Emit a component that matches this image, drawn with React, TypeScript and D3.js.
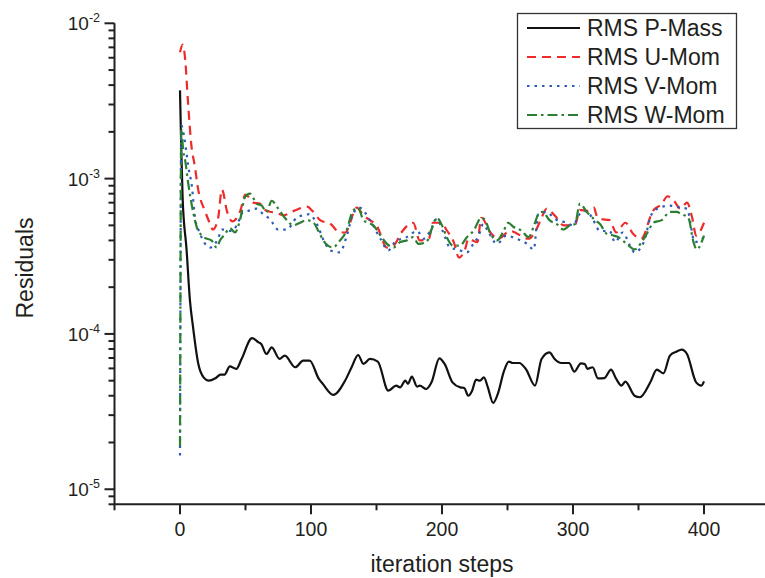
import * as d3 from 'd3';
import { useEffect, useRef } from 'react';

// [iteration step, residual]
const pMass = [
  [0, 3.7e-3], [1, 1.5e-3], [2, 7.5e-4], [5, 3.5e-4], [7.6, 1.64e-4], [10, 1.1e-4], [14, 6.4e-5], [18, 5.25e-5],
  [22, 5.0e-5], [27, 5.18e-5], [31, 5.47e-5], [34, 5.47e-5], [38, 6.18e-5], [43, 5.95e-5], [47, 6.9e-5], [55, 9.4e-5],
  [60, 8.83e-5], [62, 8.62e-5], [66, 7.43e-5], [70, 8.2e-5], [76, 6.9e-5], [80, 7.25e-5], [88, 6.1e-5], [94, 6.73e-5],
  [99, 6.73e-5], [106, 5.13e-5], [109, 4.77e-5], [117, 4.05e-5], [126, 5.0e-5], [131, 6.1e-5], [136, 7.32e-5], [140, 6.41e-5],
  [145, 6.9e-5], [151, 6.64e-5], [159, 4.31e-5], [165, 4.65e-5], [168, 4.53e-5], [172, 5.0e-5], [174, 4.77e-5], [177, 5.31e-5],
  [181, 4.58e-5], [183, 4.65e-5], [188, 4.42e-5], [192, 4.88e-5], [198, 6.97e-5], [202, 6.41e-5], [208, 4.88e-5], [214, 4.53e-5],
  [217, 4.49e-5], [220, 4.0e-5], [223, 4.31e-5], [226, 5.08e-5], [229, 5.0e-5], [232, 5.25e-5], [235, 4.53e-5], [239, 3.6e-5],
  [243, 4.21e-5], [247, 5.66e-5], [251, 6.64e-5], [254, 6.5e-5], [259, 6.5e-5], [264, 5.95e-5], [271, 4.65e-5], [276, 6.9e-5],
  [282, 7.61e-5], [286, 6.9e-5], [291, 6.5e-5], [297, 6.5e-5], [301, 5.72e-5], [306, 6.47e-5], [309, 6.41e-5], [311, 5.95e-5],
  [315, 6.1e-5], [319, 5.18e-5], [324, 5.2e-5], [329, 5.89e-5], [333, 5.13e-5], [337, 4.65e-5], [340, 4.93e-5], [347, 4.0e-5],
  [351, 3.91e-5], [359, 4.88e-5], [364, 5.89e-5], [369, 5.57e-5], [374, 7.25e-5], [379, 7.69e-5], [383, 7.92e-5], [387, 7.43e-5],
  [394, 4.88e-5], [398, 4.65e-5], [400, 4.95e-5]
];

const uMom = [
  [0, 6.5e-3], [2, 7.3e-3], [4, 5.8e-3], [6, 3.2e-3], [9, 1.55e-3], [11, 1.25e-3], [14, 8.4e-4], [19, 6.2e-4],
  [23, 5.1e-4], [25, 4.7e-4], [29, 5.5e-4], [32, 8.5e-4], [36, 6.1e-4], [40, 5.3e-4], [46, 6.2e-4], [50, 7.9e-4],
  [56, 7.0e-4], [61, 6.9e-4], [66, 6.2e-4], [74, 6.0e-4], [79, 5.8e-4], [87, 6.2e-4], [97, 6.6e-4], [101, 6.2e-4],
  [107, 5.4e-4], [115, 5.1e-4], [122, 4.5e-4], [126, 4.5e-4], [135, 6.5e-4], [140, 5.8e-4], [145, 5.4e-4], [150, 5.0e-4],
  [158, 3.6e-4], [163, 3.7e-4], [169, 4.5e-4], [178, 5.2e-4], [183, 4.0e-4], [190, 4.1e-4], [193, 5.2e-4], [199, 5.2e-4],
  [204, 4.6e-4], [209, 3.9e-4], [213, 3.1e-4], [218, 3.6e-4], [220, 4.1e-4], [227, 3.9e-4], [230, 5.6e-4], [237, 4.5e-4],
  [243, 4.1e-4], [252, 4.6e-4], [266, 4.1e-4], [272, 4.7e-4], [276, 5.6e-4], [280, 6.4e-4], [286, 5.8e-4], [293, 5.0e-4],
  [302, 5.1e-4], [305, 6.3e-4], [311, 6.2e-4], [316, 6.5e-4], [318, 5.8e-4], [321, 5.5e-4], [328, 5.4e-4], [333, 4.5e-4],
  [340, 5.2e-4], [346, 4.4e-4], [352, 4.1e-4], [361, 6.2e-4], [368, 6.9e-4], [372, 7.7e-4], [377, 7.2e-4], [382, 6.4e-4],
  [387, 7.0e-4], [391, 5.6e-4], [394, 4.3e-4], [400, 5.2e-4]
];

const vMom = [
  [0, 1.65e-5], [1, 2.2e-3], [3, 1.9e-3], [5, 1.45e-3], [6.3, 1.2e-3], [9, 9.0e-4], [11.5, 5.6e-4], [15, 4.5e-4],
  [23, 3.6e-4], [29, 4.1e-4], [32, 4.7e-4], [39.5, 4.6e-4], [46, 5.6e-4], [48, 6.1e-4], [52, 6.2e-4], [58.5, 6.4e-4],
  [63.5, 5.9e-4], [68.5, 5.5e-4], [75, 4.7e-4], [81.5, 4.7e-4], [89, 5.6e-4], [94, 5.8e-4], [99, 5.9e-4], [104, 5.2e-4],
  [111, 3.8e-4], [115, 3.45e-4], [122, 3.35e-4], [127, 4.2e-4], [132, 5.9e-4], [137, 6.5e-4], [145, 5.4e-4], [153, 4.1e-4],
  [159, 3.45e-4], [164, 3.9e-4], [173, 4.2e-4], [181, 4.6e-4], [186, 4.1e-4], [191, 4.6e-4], [196, 5.5e-4], [201, 4.5e-4],
  [206, 3.6e-4], [212, 3.5e-4], [219, 3.35e-4], [223, 3.7e-4], [228, 4.3e-4], [231.5, 5.1e-4], [235, 4.6e-4], [242, 3.8e-4],
  [249, 4.3e-4], [257, 4.1e-4], [265, 3.8e-4], [270, 3.5e-4], [273.5, 5.9e-4], [280, 6.1e-4], [286, 5.5e-4], [295, 5.2e-4],
  [300, 5.0e-4], [305, 5.9e-4], [310.5, 6.2e-4], [315.5, 5.4e-4], [320.5, 4.6e-4], [328, 4.6e-4], [332, 3.9e-4], [338, 4.5e-4],
  [343.5, 3.7e-4], [347, 3.35e-4], [354, 3.9e-4], [360, 5.9e-4], [366, 6.5e-4], [374, 6.7e-4], [382, 6.5e-4], [387, 6.4e-4],
  [393, 3.9e-4], [400, 4.2e-4]
];

const wMom = [
  [0, 1.9e-5], [1, 2.1e-3], [2.5, 1.5e-3], [4, 1.3e-3], [6.3, 9.3e-4], [10, 6.1e-4], [12.7, 4.9e-4], [16.6, 4.3e-4],
  [19, 4.15e-4], [24, 4.0e-4], [28, 3.6e-4], [30.5, 4.0e-4], [34.4, 4.4e-4], [38, 4.8e-4], [42, 4.5e-4], [46, 5.5e-4],
  [49.6, 7.6e-4], [53.4, 8.0e-4], [58.5, 6.9e-4], [62.4, 6.7e-4], [66, 6.1e-4], [70, 7.2e-4], [75, 6.4e-4], [80, 5.6e-4],
  [86.5, 5.0e-4], [91.6, 5.2e-4], [96.7, 5.4e-4], [102, 5.2e-4], [105.6, 4.6e-4], [109.4, 4.0e-4], [113, 3.7e-4], [117, 3.6e-4],
  [121, 3.9e-4], [127, 4.6e-4], [132, 6.2e-4], [136, 6.5e-4], [140, 5.4e-4], [144, 5.2e-4], [147.6, 5.0e-4], [153, 4.3e-4],
  [158, 3.8e-4], [163, 3.6e-4], [168, 3.9e-4], [173, 4.0e-4], [178, 4.2e-4], [182, 3.8e-4], [188, 3.9e-4], [192, 4.7e-4],
  [196, 5.6e-4], [200, 5.0e-4], [203.6, 4.2e-4], [208.6, 3.7e-4], [213.7, 3.7e-4], [219, 4.2e-4], [224, 4.6e-4], [230, 5.6e-4],
  [233, 5.4e-4], [236.6, 4.5e-4], [242, 4.0e-4], [247, 4.6e-4], [250.6, 5.2e-4], [254.4, 4.9e-4], [261, 4.6e-4], [266, 4.2e-4],
  [271, 5.2e-4], [273.5, 5.9e-4], [277, 6.1e-4], [282, 5.4e-4], [287.6, 5.1e-4], [292.6, 4.7e-4], [297.7, 5.0e-4], [301.5, 5.1e-4],
  [305.3, 6.9e-4], [310.5, 6.1e-4], [317, 5.4e-4], [320.6, 5.1e-4], [326, 4.4e-4], [331, 4.3e-4], [334.6, 4.2e-4], [341, 3.8e-4],
  [347, 3.5e-4], [352.4, 3.9e-4], [357.5, 4.6e-4], [361.3, 5.2e-4], [367.7, 5.4e-4], [374, 6.1e-4], [379, 6.1e-4], [383, 5.9e-4],
  [388, 5.6e-4], [392, 3.9e-4], [394.4, 3.5e-4], [400, 4.3e-4]
];

const seriesNames = ['RMS P-Mass', 'RMS U-Mom', 'RMS V-Mom', 'RMS W-Mom'];
const xTickLabels = [0, 100, 200, 300, 400];
const yDecades = [-5, -4, -3, -2];

const FONT = '"Liberation Sans", Arial, sans-serif';
const INK = '#231f20';

function App() {
  const ref = useRef(null);

  useEffect(() => {
    const width = 765;
    const height = 578;
    const svg = d3.select(ref.current);
    svg.selectAll('*').remove();
    svg.attr('width', width).attr('height', height);

    svg.append('rect').attr('width', width).attr('height', height).attr('fill', '#fff');

    const x = d3.scaleLinear().domain([-50, 450]).range([114.5, 769.5]);
    const y = d3.scaleLog().domain([8e-6, 1e-2]).range([504.3, 23.3]);

    const styles = [
      { color: '#111111', dash: null },
      { color: '#ee2a2a', dash: '9 6' },
      { color: '#2c5cb8', dash: '2.5 5' },
      { color: '#2b7f32', dash: '10 4 2.5 4' }
    ];
    const allSeries = [pMass, uMom, vMom, wMom];

    const line = d3.line()
      .x(d => x(d[0]))
      .y(d => y(d[1]))
      .curve(d3.curveMonotoneX);

    allSeries.forEach((s, i) => {
      svg.append('path')
        .datum(s)
        .attr('d', line)
        .attr('fill', 'none')
        .attr('stroke', styles[i].color)
        .attr('stroke-width', 2.2)
        .attr('stroke-dasharray', styles[i].dash)
        .attr('stroke-linejoin', 'round');
    });

    // Axes
    const x0 = x.range()[0];
    const yBottom = y.range()[0];
    const axisG = svg.append('g').attr('stroke', INK).attr('stroke-width', 2);
    axisG.append('line').attr('x1', x0).attr('x2', width).attr('y1', yBottom).attr('y2', yBottom);
    axisG.append('line').attr('x1', x0).attr('x2', x0).attr('y1', y.range()[1]).attr('y2', yBottom);

    // x ticks
    const xMinor = d3.range(-50, 451, 50).filter(v => v % 100 !== 0);
    xMinor.forEach(v => {
      axisG.append('line').attr('x1', x(v)).attr('x2', x(v)).attr('y1', yBottom).attr('y2', yBottom + 6);
    });
    xTickLabels.forEach(v => {
      axisG.append('line').attr('x1', x(v)).attr('x2', x(v)).attr('y1', yBottom).attr('y2', yBottom + 10);
      svg.append('text')
        .attr('x', x(v))
        .attr('y', 535.5)
        .attr('text-anchor', 'middle')
        .attr('font-family', FONT)
        .attr('font-size', 19.5)
        .attr('fill', INK)
        .text(v);
    });

    // y ticks
    yDecades.forEach(e => {
      const base = Math.pow(10, e);
      axisG.append('line').attr('x1', x0 - 10).attr('x2', x0).attr('y1', y(base)).attr('y2', y(base));
      const t = svg.append('text')
        .attr('x', 100)
        .attr('y', y(base) + 7)
        .attr('text-anchor', 'end')
        .attr('font-family', FONT)
        .attr('font-size', 19)
        .attr('fill', INK);
      t.append('tspan').text('10');
      t.append('tspan').attr('dy', -8).attr('font-size', 12.5).text(String(e));
      for (let k = 2; k <= 9; k++) {
        const v = k * base / 10;
        if (v < y.domain()[0]) continue;
        axisG.append('line').attr('x1', x0 - 6).attr('x2', x0).attr('y1', y(v)).attr('y2', y(v));
      }
    });

    // Axis titles
    svg.append('text')
      .attr('x', 442)
      .attr('y', 572)
      .attr('text-anchor', 'middle')
      .attr('font-family', FONT)
      .attr('font-size', 23)
      .attr('fill', INK)
      .text('iteration steps');
    svg.append('text')
      .attr('transform', 'translate(33,268) rotate(-90)')
      .attr('text-anchor', 'middle')
      .attr('font-family', FONT)
      .attr('font-size', 23)
      .attr('fill', INK)
      .text('Residuals');

    // Legend
    const legend = svg.append('g');
    legend.append('rect')
      .attr('x', 517.5).attr('y', 13.5).attr('width', 219).attr('height', 115)
      .attr('fill', '#fff').attr('stroke', '#333').attr('stroke-width', 1.3);
    seriesNames.forEach((name, i) => {
      const ly = 28 + i * 29;
      legend.append('line')
        .attr('x1', 527).attr('x2', 580).attr('y1', ly).attr('y2', ly)
        .attr('stroke', styles[i].color)
        .attr('stroke-width', 2.2)
        .attr('stroke-dasharray', styles[i].dash);
      legend.append('text')
        .attr('x', 587)
        .attr('y', ly + 8)
        .attr('font-family', FONT)
        .attr('font-size', 23)
        .attr('fill', INK)
        .text(name);
    });
  }, []);

  return (
    <div style={{ position: 'absolute', left: 0, top: 0 }}>
      <svg ref={ref} width={765} height={578}></svg>
    </div>
  );
}

export default App;
